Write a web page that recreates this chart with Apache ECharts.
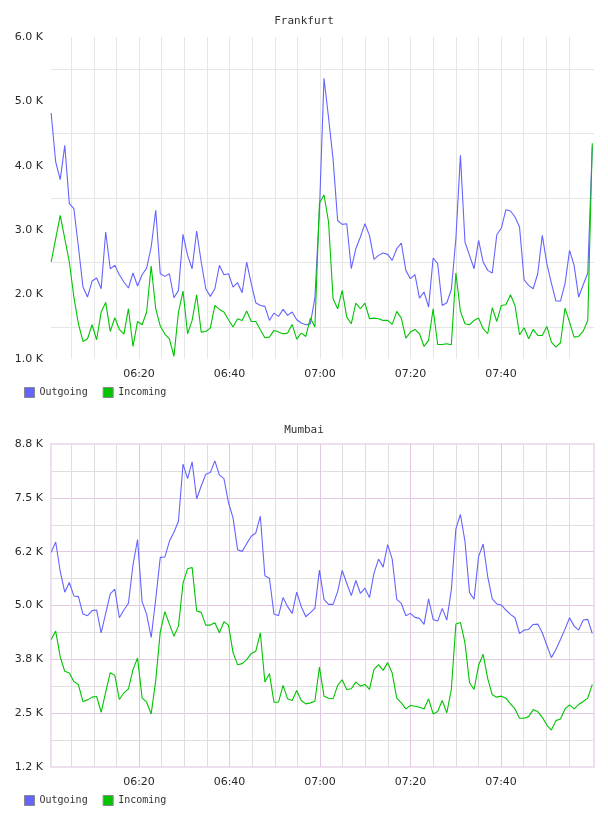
<!DOCTYPE html>
<html><head><meta charset="utf-8">
<script src="https://cdn.jsdelivr.net/npm/echarts@6/dist/echarts.min.js"></script>
<style>html,body{margin:0;padding:0;background:#fff}#c{width:608px;height:816px}</style>
</head><body><div id="c"></div>
<script>
// ---- data ----
const seriesNames = ['Outgoing', 'Incoming'];
const chartTitles = ['Frankfurt', 'Mumbai'];
// sample times: minutes after 06:00
const sampleStartMin = 0.58;
const sampleStepMin = 1.005;

const frankfurtOut = [
  4820, 4060, 3785, 4318, 3412, 3334, 2739, 2117, 1962, 2210,
  2257, 2091, 2972, 2402, 2454, 2309, 2195, 2102, 2335, 2133,
  2309, 2412, 2739, 3309, 2324, 2283, 2324, 1951, 2065, 2936,
  2609, 2402, 2987, 2506, 2091, 1972, 2091, 2454, 2309, 2324,
  2117, 2185, 2029, 2506, 2169, 1874, 1832, 1817, 1599, 1713,
  1661, 1770, 1677, 1729, 1610, 1558, 1532, 1545, 1950, 3300,
  5360, 4750, 4100, 3150, 3091, 3101, 2402, 2713, 2894, 3101,
  2920, 2547, 2609, 2646, 2625, 2532, 2713, 2801, 2376, 2247,
  2309, 1946, 2040, 1806, 2568, 2480, 1832, 1874, 2076, 2868,
  4163, 2817, 2609, 2402, 2842, 2506, 2376, 2335, 2930, 3034,
  3319, 3298, 3205, 3050, 2231, 2143, 2091, 2324, 2920, 2480,
  2179, 1900, 1900, 2169, 2687, 2454, 1962, 2153, 2335, 4300
];
const frankfurtIn = [
  2506, 2868, 3231, 2868, 2506, 1962, 1547, 1273, 1314, 1532,
  1299, 1729, 1879, 1428, 1641, 1459, 1387, 1781, 1195, 1583,
  1532, 1729, 2444, 1781, 1511, 1387, 1314, 1040, 1729, 2055,
  1392, 1599, 1998, 1418, 1428, 1480, 1832, 1770, 1729, 1610,
  1496, 1625, 1599, 1744, 1583, 1583, 1454, 1330, 1340, 1444,
  1418, 1392, 1402, 1537, 1309, 1402, 1350, 1635, 1495, 3420,
  3550, 3127, 1936, 1780, 2065, 1651, 1547, 1869, 1780, 1869,
  1625, 1635, 1625, 1599, 1599, 1537, 1739, 1635, 1325, 1418,
  1459, 1392, 1195, 1288, 1780, 1226, 1226, 1237, 1221, 2335,
  1739, 1547, 1532, 1599, 1635, 1470, 1392, 1796, 1583, 1832,
  1843, 1998, 1832, 1376, 1485, 1314, 1459, 1366, 1366, 1506,
  1262, 1185, 1252, 1791, 1573, 1340, 1350, 1433, 1599, 4350
];
const mumbaiOut = [
  6234, 6475, 5790, 5308, 5533, 5222, 5206, 4802, 4763, 4880,
  4895, 4366, 4817, 5269, 5378, 4716, 4895, 5051, 5946, 6529,
  5090, 4794, 4257, 5152, 6117, 6125, 6491, 6701, 6958, 8281,
  7946, 8335, 7479, 7775, 8047, 8086, 8358, 8032, 7946, 7386,
  7035, 6296, 6257, 6436, 6607, 6685, 7074, 5689, 5634, 4802,
  4763, 5183, 4973, 4817, 5308, 4973, 4739, 4833, 4934, 5820,
  5144, 5027, 5027, 5323, 5813, 5518, 5230, 5580, 5284, 5401,
  5183, 5751, 6078, 5891, 6413, 6078, 5144, 5051, 4763, 4817,
  4724, 4701, 4560, 5152, 4677, 4638, 4934, 4662, 5362, 6779,
  7113, 6491, 5300, 5144, 6140, 6428, 5673, 5152, 5035, 5012,
  4895, 4794, 4716, 4350, 4428, 4444, 4560, 4568, 4366, 4078,
  3790, 3977, 4210, 4451, 4716, 4521, 4428, 4662, 4677, 4350
];
const mumbaiIn = [
  4210, 4405, 3805, 3471, 3432, 3237, 3159, 2770, 2809, 2872,
  2887, 2521, 2988, 3440, 3377, 2817, 2973, 3066, 3510, 3782,
  2856, 2755, 2482, 3261, 4389, 4856, 4568, 4288, 4521, 5518,
  5852, 5884, 4872, 4841, 4545, 4545, 4599, 4366, 4622, 4545,
  3907, 3626, 3650, 3743, 3883, 3938, 4366, 3222, 3417, 2755,
  2755, 3144, 2833, 2794, 3027, 2794, 2716, 2739, 2778, 3572,
  2895, 2848, 2833, 3144, 3276, 3050, 3066, 3222, 3128, 3167,
  3050, 3518, 3626, 3494, 3673, 3432, 2848, 2739, 2599, 2677,
  2661, 2638, 2599, 2833, 2482, 2537, 2794, 2506, 3050, 4568,
  4607, 4132, 3206, 3050, 3611, 3868, 3300, 2926, 2872, 2895,
  2848, 2716, 2599, 2381, 2381, 2420, 2583, 2537, 2404, 2225,
  2109, 2327, 2365, 2599, 2692, 2599, 2700, 2770, 2848, 3167
];

const xGridValues = [5,10,15,20,25,30,35,40,45,50,55,60,65,70,75,80,85,90,95,100,105,110,115];
const xTickValues = [20, 40, 60, 80, 100];
const xTickLabels = ['06:20', '06:40', '07:00', '07:20', '07:40'];

const fraYTickValues = [1000, 2000, 3000, 4000, 5000, 6000];
const fraYTickLabels = ['1.0 K', '2.0 K', '3.0 K', '4.0 K', '5.0 K', '6.0 K'];
const fraYGridValues = [1500, 2500, 3500, 4500, 5500];

const mumYTickValues = [1250, 2500, 3750, 5000, 6250, 7500, 8750];
const mumYTickLabels = ['1.2 K', '2.5 K', '3.8 K', '5.0 K', '6.2 K', '7.5 K', '8.8 K'];
const mumYGridValues = [1875, 2500, 3125, 3750, 4375, 5000, 5625, 6250, 6875, 7500, 8125];

// ---- build ----
const sampleTimes = frankfurtOut.map((_, i) => sampleStartMin + i * sampleStepMin);
const pairs = arr => arr.map((v, i) => [sampleTimes[i], v]);
const lookup = (vals, labels) => v => { const k = vals.indexOf(Math.round(v)); return k >= 0 ? labels[k] : ''; };

const BLUE = '#6464ff', GREEN = '#00c400';
const PINK = '#e2c8e2', GREY_M = '#dedede', GREY_F = '#e6e6e6';
const labelFont = { fontFamily: 'DejaVu Sans', fontSize: 11, color: '#2a2a2a' };
const monoFont = { fontFamily: 'DejaVu Sans Mono', fontSize: 11, color: '#333', fontWeight: 'normal' };

function xAxis(gridIndex, colors) {
  return {
    type: 'value', gridIndex, min: 0.55, max: 120.55,
    axisLine: { show: false },
    axisTick: { show: false, customValues: xGridValues },
    axisLabel: Object.assign({ customValues: xTickValues, margin: 10,
      formatter: lookup(xTickValues, xTickLabels) }, labelFont),
    splitLine: { show: true, lineStyle: { color: colors, width: 1 } }
  };
}
function yAxis(gridIndex, min, max, tickVals, tickLabels, gridVals, colors) {
  return {
    type: 'value', gridIndex, min, max,
    axisLine: { show: false },
    axisTick: { show: false, customValues: gridVals },
    axisLabel: Object.assign({ customValues: tickVals, margin: 8,
      formatter: lookup(tickVals, tickLabels) }, labelFont),
    splitLine: { show: true, lineStyle: { color: colors, width: 1 } }
  };
}
function line(name, data, color, idx) {
  return {
    name, type: 'line', xAxisIndex: idx, yAxisIndex: idx, data: pairs(data),
    symbol: 'none', lineStyle: { color, width: 1.1 }, itemStyle: { color },
    animation: false, silent: true
  };
}
function legend(top) {
  return {
    left: 19, top, itemWidth: 10, itemHeight: 10, itemGap: 15, icon: 'rect',
    data: seriesNames, textStyle: Object.assign({}, monoFont, { fontSize: 10 }),
    itemStyle: { borderColor: '#888', borderWidth: 1 }, selectedMode: false
  };
}

const chart = echarts.init(document.getElementById('c'), null, { renderer: 'canvas' });
chart.setOption({
  backgroundColor: '#fff',
  animation: false,
  title: [
    { text: chartTitles[0], left: 'center', top: 16, padding: 0, textStyle: monoFont },
    { text: chartTitles[1], left: 'center', top: 425, padding: 0, textStyle: monoFont }
  ],
  legend: [legend(382), legend(790)],
  grid: [
    { left: 51, top: 37, width: 543, height: 322, show: false },
    { left: 51, top: 444, width: 543, height: 323, show: true, borderColor: '#eedfee', borderWidth: 2, backgroundColor: 'transparent' }
  ],
  xAxis: [xAxis(0, GREY_F), xAxis(1, [GREY_M, GREY_M, GREY_M, PINK])],
  yAxis: [
    yAxis(0, 1000, 6000, fraYTickValues, fraYTickLabels, fraYGridValues, GREY_F),
    yAxis(1, 1250, 8750, mumYTickValues, mumYTickLabels, mumYGridValues, [GREY_M, PINK])
  ],
  series: [
    line(seriesNames[0], frankfurtOut, BLUE, 0),
    line(seriesNames[1], frankfurtIn, GREEN, 0),
    line(seriesNames[0], mumbaiOut, BLUE, 1),
    line(seriesNames[1], mumbaiIn, GREEN, 1)
  ]
});
</script>
</body></html>
